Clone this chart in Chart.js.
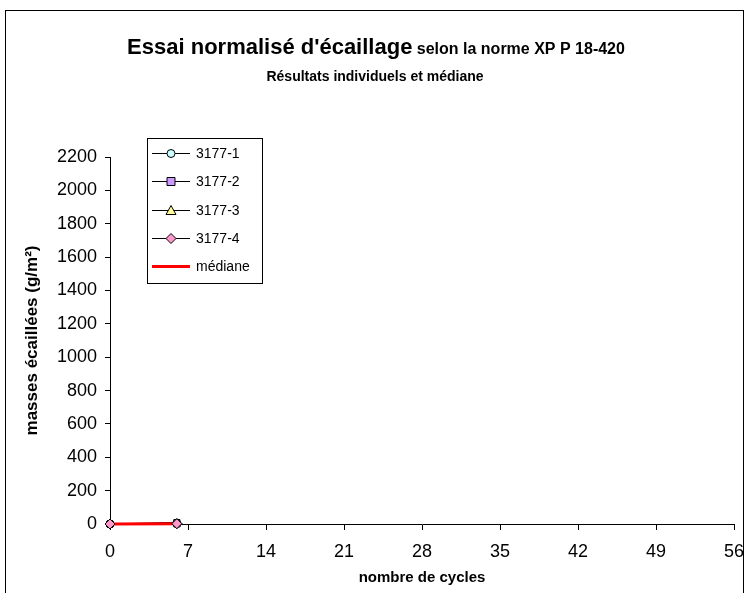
<!DOCTYPE html>
<html lang="fr">
<head>
  <meta charset="UTF-8" />
  <title>Essai normalisé d'écaillage</title>
  <script src="https://cdn.jsdelivr.net/npm/chart.js"></script>
  <style>
    html, body { margin: 0; padding: 0; background: #fff; }
    #wrap { position: relative; width: 746px; height: 593px; }
  </style>
</head>
<body>
  <div id="wrap"><canvas id="chart"></canvas></div>

  <script>
    // Data
    const cycles = [0, 6];
    const xTicks = [0, 7, 14, 21, 28, 35, 42, 49, 56];
    const yTicks = [0, 200, 400, 600, 800, 1000, 1200, 1400, 1600, 1800, 2000, 2200];
    const names = ['3177-1', '3177-2', '3177-3', '3177-4', 'médiane'];
    const s1 = [0, 2];
    const s2 = [0, 10];
    const s3 = [0, 1];
    const s4 = [0, 2];
    const median = [0, 1];

    const FONT = "'Liberation Sans', Arial, sans-serif";

    function pts(vals) {
      return vals.map((v, i) => ({ x: cycles[i], y: v }));
    }

    function serie(label, vals, style, fill, order) {
      return {
        label: label,
        data: pts(vals),
        borderColor: '#000',
        borderWidth: 1,
        pointStyle: style,
        pointRadius: style === 'rectRot' ? 5 : 4,
        pointBackgroundColor: fill,
        pointBorderColor: '#000',
        pointBorderWidth: 1,
        tension: 0,
        clip: false,
        order: order
      };
    }

    const datasets = [
      serie(names[0], s1, 'circle', '#ccffff', 4),
      serie(names[1], s2, 'rect', '#cc99ff', 3),
      serie(names[2], s3, 'triangle', '#ffff99', 2),
      serie(names[3], s4, 'rectRot', '#ff99cc', 1),
      {
        label: names[4],
        data: pts(median),
        borderColor: '#ff0000',
        borderWidth: 3,
        pointRadius: 0,
        tension: 0,
        clip: false,
        order: 0
      }
    ];

    function drawMarker(ctx, style, r, x, y) {
      ctx.beginPath();
      if (style === 'circle') {
        ctx.arc(x, y, r, 0, Math.PI * 2);
      } else if (style === 'rect') {
        ctx.rect(x - r, y - r, 2 * r, 2 * r);
      } else if (style === 'triangle') {
        ctx.moveTo(x, y - r - 1);
        ctx.lineTo(x + r + 1, y + r);
        ctx.lineTo(x - r - 1, y + r);
        ctx.closePath();
      } else {
        ctx.moveTo(x, y - r);
        ctx.lineTo(x + r, y);
        ctx.lineTo(x, y + r);
        ctx.lineTo(x - r, y);
        ctx.closePath();
      }
      ctx.fill();
      ctx.stroke();
    }

    // frame, two-size title and boxed legend drawn on the canvas
    const decor = {
      id: 'decor',
      beforeDraw(chart) {
        const ctx = chart.ctx;
        ctx.save();
        ctx.fillStyle = '#fff';
        ctx.fillRect(0, 0, chart.width, chart.height);
        ctx.restore();
      },
      afterDatasetsDraw(chart) {
        // markers sit above the red median line
        const ctx = chart.ctx;
        chart.data.datasets.forEach((ds, i) => {
          if (!ds.pointRadius) return;
          chart.getDatasetMeta(i).data.forEach(p => p.draw(ctx, null));
        });
      },
      afterDraw(chart) {
        const ctx = chart.ctx;
        ctx.save();
        ctx.strokeStyle = '#000';
        ctx.lineWidth = 1;
        ctx.strokeRect(5.5, 10.5, 738, 700);

        // title line 1 : big + small part
        const big = "Essai normalisé d'écaillage";
        const small = ' selon la norme XP P 18-420';
        ctx.fillStyle = '#000';
        ctx.textBaseline = 'alphabetic';
        ctx.font = 'bold 22px ' + FONT;
        const wb = ctx.measureText(big).width;
        ctx.font = 'bold 16px ' + FONT;
        const ws = ctx.measureText(small).width;
        const x = 376 - (wb + ws) / 2;
        ctx.textAlign = 'left';
        ctx.font = 'bold 22px ' + FONT;
        ctx.fillText(big, x, 54);
        ctx.font = 'bold 16px ' + FONT;
        ctx.fillText(small, x + wb, 54);

        ctx.textAlign = 'center';
        ctx.font = 'bold 14px ' + FONT;
        ctx.fillText('Résultats individuels et médiane', 375, 81);

        // legend
        ctx.strokeRect(147.5, 138.5, 115, 145);
        ctx.textAlign = 'left';
        ctx.textBaseline = 'middle';
        ctx.font = '14px ' + FONT;
        const rows = [153, 181, 210, 238, 266];
        chart.data.datasets.forEach((ds, i) => {
          const y = rows[i];
          ctx.strokeStyle = ds.borderColor;
          ctx.lineWidth = ds.borderWidth;
          ctx.beginPath();
          ctx.moveTo(152, y + 0.5);
          ctx.lineTo(190, y + 0.5);
          ctx.stroke();
          if (ds.pointRadius > 0) {
            ctx.fillStyle = ds.pointBackgroundColor;
            ctx.strokeStyle = '#000';
            ctx.lineWidth = 1;
            drawMarker(ctx, ds.pointStyle, ds.pointRadius, 171, y + 0.5);
          }
          ctx.fillStyle = '#000';
          ctx.fillText(ds.label, 196, y + 1);
        });
        ctx.restore();
      }
    };

    new Chart(document.getElementById('chart'), {
      type: 'line',
      data: { datasets: datasets },
      plugins: [decor],
      options: {
        responsive: true,
        maintainAspectRatio: false,
        animation: false,
        layout: { padding: { top: 157, right: 0, bottom: 0, left: 0 } },
        plugins: {
          legend: { display: false },
          title: { display: false },
          tooltip: { enabled: false }
        },
        scales: {
          x: {
            type: 'linear',
            min: xTicks[0],
            max: xTicks[xTicks.length - 1],
            afterBuildTicks: (s) => { s.ticks = xTicks.map(v => ({ value: v })); },
            afterFit: (s) => { s.height = 69; s.paddingRight = 12; s.paddingLeft = 0; },
            grid: { drawOnChartArea: false, tickLength: 6, color: '#000' },
            border: { display: true, color: '#000', width: 1 },
            ticks: {
              color: '#000',
              font: { family: FONT, size: 18 },
              padding: 11,
              maxRotation: 0,
              callback: (v) => String(v)
            },
            title: {
              display: true,
              text: 'nombre de cycles',
              color: '#000',
              font: { family: FONT, size: 15, weight: 'bold' },
              padding: { top: 0, bottom: 6 }
            }
          },
          y: {
            min: yTicks[0],
            max: yTicks[yTicks.length - 1],
            afterBuildTicks: (s) => { s.ticks = yTicks.map(v => ({ value: v })); },
            afterFit: (s) => { s.width = 110; },
            grid: { drawOnChartArea: false, tickLength: 5, color: '#000' },
            border: { display: true, color: '#000', width: 1 },
            ticks: {
              color: '#000',
              font: { family: FONT, size: 18 },
              padding: 8,
              callback: (v) => String(v)
            },
            title: {
              display: true,
              text: 'masses écaillées (g/m²)',
              color: '#000',
              font: { family: FONT, size: 17, weight: 'bold' },
              padding: { top: 22, bottom: 0 }
            }
          }
        }
      }
    });
  </script>
</body>
</html>
